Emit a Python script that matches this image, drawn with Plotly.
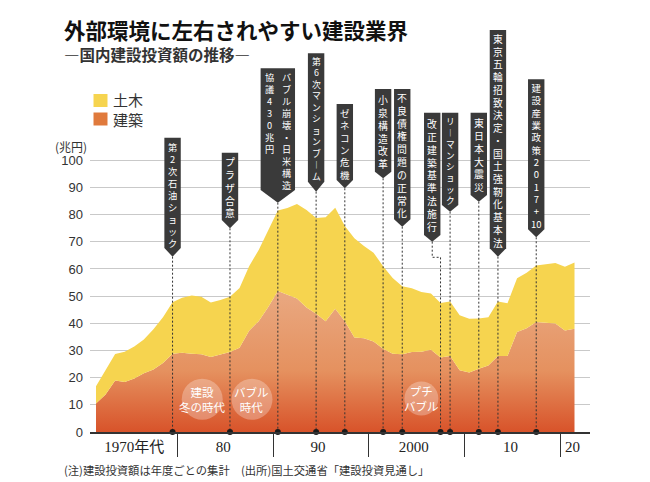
import re
import plotly.graph_objects as go

# 年度別 国内建設投資額 (兆円) -- 建築と土木
YEARS = list(range(1971, 2022))
KENCHIKU = [10.5, 13.8, 19.0, 18.4, 19.7, 21.6, 23.0, 25.4, 28.8, 29.2,
            28.8, 28.6, 27.6, 28.6, 29.4, 31.0, 37.3, 40.8, 46.0, 51.9,
            50.5, 49.1, 45.8, 43.5, 40.8, 45.4, 40.8, 34.8, 34.5, 33.3,
            30.6, 28.8, 28.6, 29.4, 29.5, 30.3, 27.4, 28.0, 22.7, 21.9,
            23.3, 24.5, 28.0, 28.0, 36.8, 38.2, 40.5, 40.1, 39.9, 37.4,
            38.0]
DOBOKU = [6.3, 8.7, 9.7, 11.1, 11.8, 12.4, 14.8, 16.8, 19.0, 20.2,
          21.4, 21.2, 20.1, 20.0, 20.4, 22.0, 23.7, 26.2, 28.2, 29.6,
          31.9, 34.8, 35.9, 35.3, 38.2, 37.1, 35.0, 36.5, 34.0, 32.7,
          30.4, 27.9, 25.0, 23.5, 22.0, 20.7, 20.1, 20.0, 20.3, 19.8,
          18.5, 17.7, 20.0, 19.4, 19.8, 20.4, 20.8, 21.6, 22.3, 23.4,
          24.4]

EVENT_YEARS = [1979, 1985, 1990, 1994, 1997, 2001, 2003, 2007, 2008, 2011, 2013, 2017]
EVENT_LABELS = [
    ["第2次石油ショック"],
    ["プラザ合意"],
    ["バブル崩壊・日米構造", "協議430兆円"],
    ["第6次マンションブーム"],
    ["ゼネコン危機"],
    ["小泉構造改革"],
    ["不良債権問題の正常化"],
    ["改正建築基準法施行"],
    ["リーマンショック"],
    ["東日本大震災"],
    ["東京五輪招致決定・国土強靭化基本法"],
    ["建設産業政策2017+10"],
]
ERA_LABELS = ["建設<br>冬の時代", "バブル<br>時代", "プチ<br>バブル"]
LEGEND_NAMES = ["土木", "建築"]

DECADE_LABELS = ["1970年代", "80", "90", "2000", "10", "20"]
Y_TICKS = list(range(0, 101, 10))

TITLE = "外部環境に左右されやすい建設業界"
SUBTITLE = "―国内建設投資額の推移―"
NOTE = "(注)建設投資額は年度ごとの集計　(出所)国土交通省「建設投資見通し」"

# ---- layout geometry (page pixels) ----
W, H = 650, 482
ML, MR, MT, MB = 90, 60, 28, 50
PLOT_W, PLOT_H = W - ML - MR, H - MT - MB
PX_PER_YEAR = 9.57
PX_PER_UNIT = 2.717
X0 = 1971 - (96 - ML) / PX_PER_YEAR
X1 = X0 + PLOT_W / PX_PER_YEAR
Y1 = PLOT_H / PX_PER_UNIT

DECADE_POS = [1975, 1984.3, 1994.2, 2004.2, 2014.3, 2020.8]
DECADE_SEPS = [1979.5, 1989.5, 1999.5, 2009.5, 2019.5]

# callout boxes: top, rect bottom, tip (page y), x offset and half width (px)
BOX_TOP = [137.7, 152.7, 68.3, 53.3, 104, 89, 89, 112.7, 112.7, 112.7, 30, 79.3]
BOX_BOT = [248, 220, 190, 181.7, 180, 171.7, 219.3, 235, 205, 195, 248.3, 229.3]
BOX_TIP = [256.7, 228.3, 202.7, 191.7, 188.3, 178.3, 226.7, 241.7, 211.7, 201.7, 256.7, 237.3]
BOX_DX = [0, 0, 0, 0, 0, 0, 0, -8.3, 0, 0, 0, 0]
BOX_HALF = [8.2, 8.2, 17.2, 8.2, 8.2, 8.2, 8.2, 8.2, 8.2, 8.2, 8.2, 8.2]
DOGLEG_Y = 257.3  # the 2007 leader line steps right here
BOX_FONT_MAX = 9.9
COL_STEP = 17.5  # px between the two columns of a wide box

ERA_POS = [(1982.1, 399.3, 20.5), (1987.3, 399.3, 20.5), (2005.0, 398.5, 17)]

BOX_COLOR = "#3a3a3a"
YELLOW = "#f6d44f"
ORANGE = "#e07a3c"
JP = "Noto Sans CJK JP"


def X(px):
    return (px - ML) / PLOT_W


def Y(py):
    return (H - MB - py) / PLOT_H


def dyear(px):
    return px / PX_PER_YEAR


def vertical(col):
    # one glyph per line; long vowel mark turned upright, "10" kept as one cell
    toks = re.findall(r"(?<=\+)10|.", col)
    return ["︱" if t == "ー" else t for t in toks]


fig = go.Figure()

fig.add_trace(go.Scatter(
    x=YEARS, y=KENCHIKU, name="建築", stackgroup="one", mode="lines",
    line=dict(width=0), fillcolor=ORANGE,
    fillgradient=dict(type="vertical", start=0, stop=50,
                      colorscale=[[0, "#d8532a"], [0.45, "#e5915f"], [1, "#e9a77f"]]),
    showlegend=False, hoverinfo="skip",
))
fig.add_trace(go.Scatter(
    x=YEARS, y=DOBOKU, name="土木", stackgroup="one", mode="lines",
    line=dict(width=0), fillcolor=YELLOW,
    showlegend=False, hoverinfo="skip",
))

shapes = []
annotations = []

# era bubbles
for (yr, py, r), txt in zip(ERA_POS, ERA_LABELS):
    shapes.append(dict(type="circle", xref="x", yref="paper",
                       x0=yr - dyear(r), x1=yr + dyear(r),
                       y0=Y(py + r), y1=Y(py - r),
                       fillcolor="rgba(255,255,255,0.28)", line=dict(width=0), layer="above"))
    annotations.append(dict(x=yr, y=Y(py), xref="x", yref="paper", text=txt,
                            showarrow=False, xanchor="center", yanchor="middle",
                            font=dict(family=JP, size=11.5, color="white")))

# leader lines
lx, ly = [], []
for i, yr in enumerate(EVENT_YEARS):
    bx = yr + dyear(BOX_DX[i])
    if BOX_DX[i] != 0:
        pts = [(bx, BOX_TIP[i]), (bx, DOGLEG_Y), (yr, DOGLEG_Y), (yr, H - MB)]
    else:
        pts = [(yr, BOX_TIP[i]), (yr, H - MB)]
    for px_, py_ in pts:
        lx.append(px_)
        ly.append((H - MB - py_) / PX_PER_UNIT)
    lx.append(None)
    ly.append(None)
fig.add_trace(go.Scatter(x=lx, y=ly, mode="lines", line=dict(color="#333", width=1, dash="2px,2px"),
                         showlegend=False, hoverinfo="skip"))
fig.add_trace(go.Scatter(x=EVENT_YEARS, y=[0] * len(EVENT_YEARS), mode="markers",
                         marker=dict(size=6, color="#1a1a1a"), cliponaxis=False,
                         showlegend=False, hoverinfo="skip"))

# callout boxes with vertical text
for i, yr in enumerate(EVENT_YEARS):
    bx = yr + dyear(BOX_DX[i])
    hw = dyear(BOX_HALF[i])
    yt, yb, ytip = Y(BOX_TOP[i]), Y(BOX_BOT[i]), Y(BOX_TIP[i])
    shapes.append(dict(type="path", xref="x", yref="paper", layer="above",
                       path=f"M {bx - hw},{yt} L {bx + hw},{yt} L {bx + hw},{yb} "
                            f"L {bx},{ytip} L {bx - hw},{yb} Z",
                       fillcolor=BOX_COLOR, line=dict(width=0)))
    cols = [vertical(c) for c in EVENT_LABELS[i]]
    nrows = max(len(c) for c in cols)
    box_h = BOX_BOT[i] - BOX_TOP[i]
    fs = min(BOX_FONT_MAX, (box_h - 2) / nrows / 1.3)
    text_top = BOX_TOP[i] + (box_h - nrows * fs * 1.3) / 2
    ncol = len(cols)
    for ci, col in enumerate(cols):
        # first column is the right-most one
        offx = ((ncol - 1) / 2 - ci) * COL_STEP
        annotations.append(dict(
            x=bx + dyear(offx), y=Y(text_top), xref="x", yref="paper",
            text="<br>".join(col), showarrow=False, xanchor="center", yanchor="top",
            align="center", borderpad=0,
            font=dict(family=JP, size=fs, color="white")))

# legend
for py, col in zip([100.5, 119], [YELLOW, ORANGE]):
    shapes.append(dict(type="rect", xref="paper", yref="paper",
                       x0=X(93.5), x1=X(107.5), y0=Y(py + 6.5), y1=Y(py - 6.5),
                       fillcolor=col, line=dict(width=0)))
annotations.append(dict(x=X(110.5), y=Y(109.8), xref="paper", yref="paper",
                        text="<br>".join(LEGEND_NAMES),
                        showarrow=False, xanchor="left", yanchor="middle", align="left",
                        font=dict(family=JP, size=15, color="#333")))

annotations += [
    dict(x=X(62), y=Y(29), xref="paper", yref="paper", text=f"<b>{TITLE}</b>",
         showarrow=False, xanchor="left", yanchor="middle",
         font=dict(family=JP, size=21.5, color="#111")),
    dict(x=X(62), y=Y(54), xref="paper", yref="paper", text=f"<b>{SUBTITLE}</b>",
         showarrow=False, xanchor="left", yanchor="middle",
         font=dict(family=JP, size=15.5, color="#333")),
    dict(x=X(71), y=Y(146), xref="paper", yref="paper", text="(兆円)",
         showarrow=False, xanchor="center", yanchor="middle",
         font=dict(family=JP, size=12, color="#333")),
    dict(x=X(62), y=Y(470), xref="paper", yref="paper", text=NOTE,
         showarrow=False, xanchor="left", yanchor="middle",
         font=dict(family=JP, size=11.3, color="#333")),
]

fig.update_layout(
    width=W, height=H,
    margin=dict(l=ML, r=MR, t=MT, b=MB, pad=0),
    paper_bgcolor="white", plot_bgcolor="white",
    showlegend=False,
    shapes=shapes, annotations=annotations,
    xaxis=dict(range=[X0, X1], showgrid=False, zeroline=False,
               showline=True, linecolor="#333", linewidth=1.5,
               tickmode="array", tickvals=DECADE_POS, ticktext=DECADE_LABELS, ticks="",
               tickfont=dict(family="Liberation Serif, " + JP, size=15, color="#222"),
               minor=dict(tickmode="array", tickvals=DECADE_SEPS, ticks="outside",
                          ticklen=23, tickcolor="#333", tickwidth=1.2)),
    yaxis=dict(range=[0, Y1], tickmode="array", tickvals=Y_TICKS, ticks="",
               showgrid=True, gridcolor="#c9c9c9", gridwidth=1.3, zeroline=False,
               showline=False, ticklabelstandoff=6,
               tickfont=dict(family="Liberation Sans", size=13, color="#333")),
)

# the page's default body margin would push the figure off its frame
fig.write_html("out.html", config={"displayModeBar": False},
               post_script="document.body.style.margin='0';")
